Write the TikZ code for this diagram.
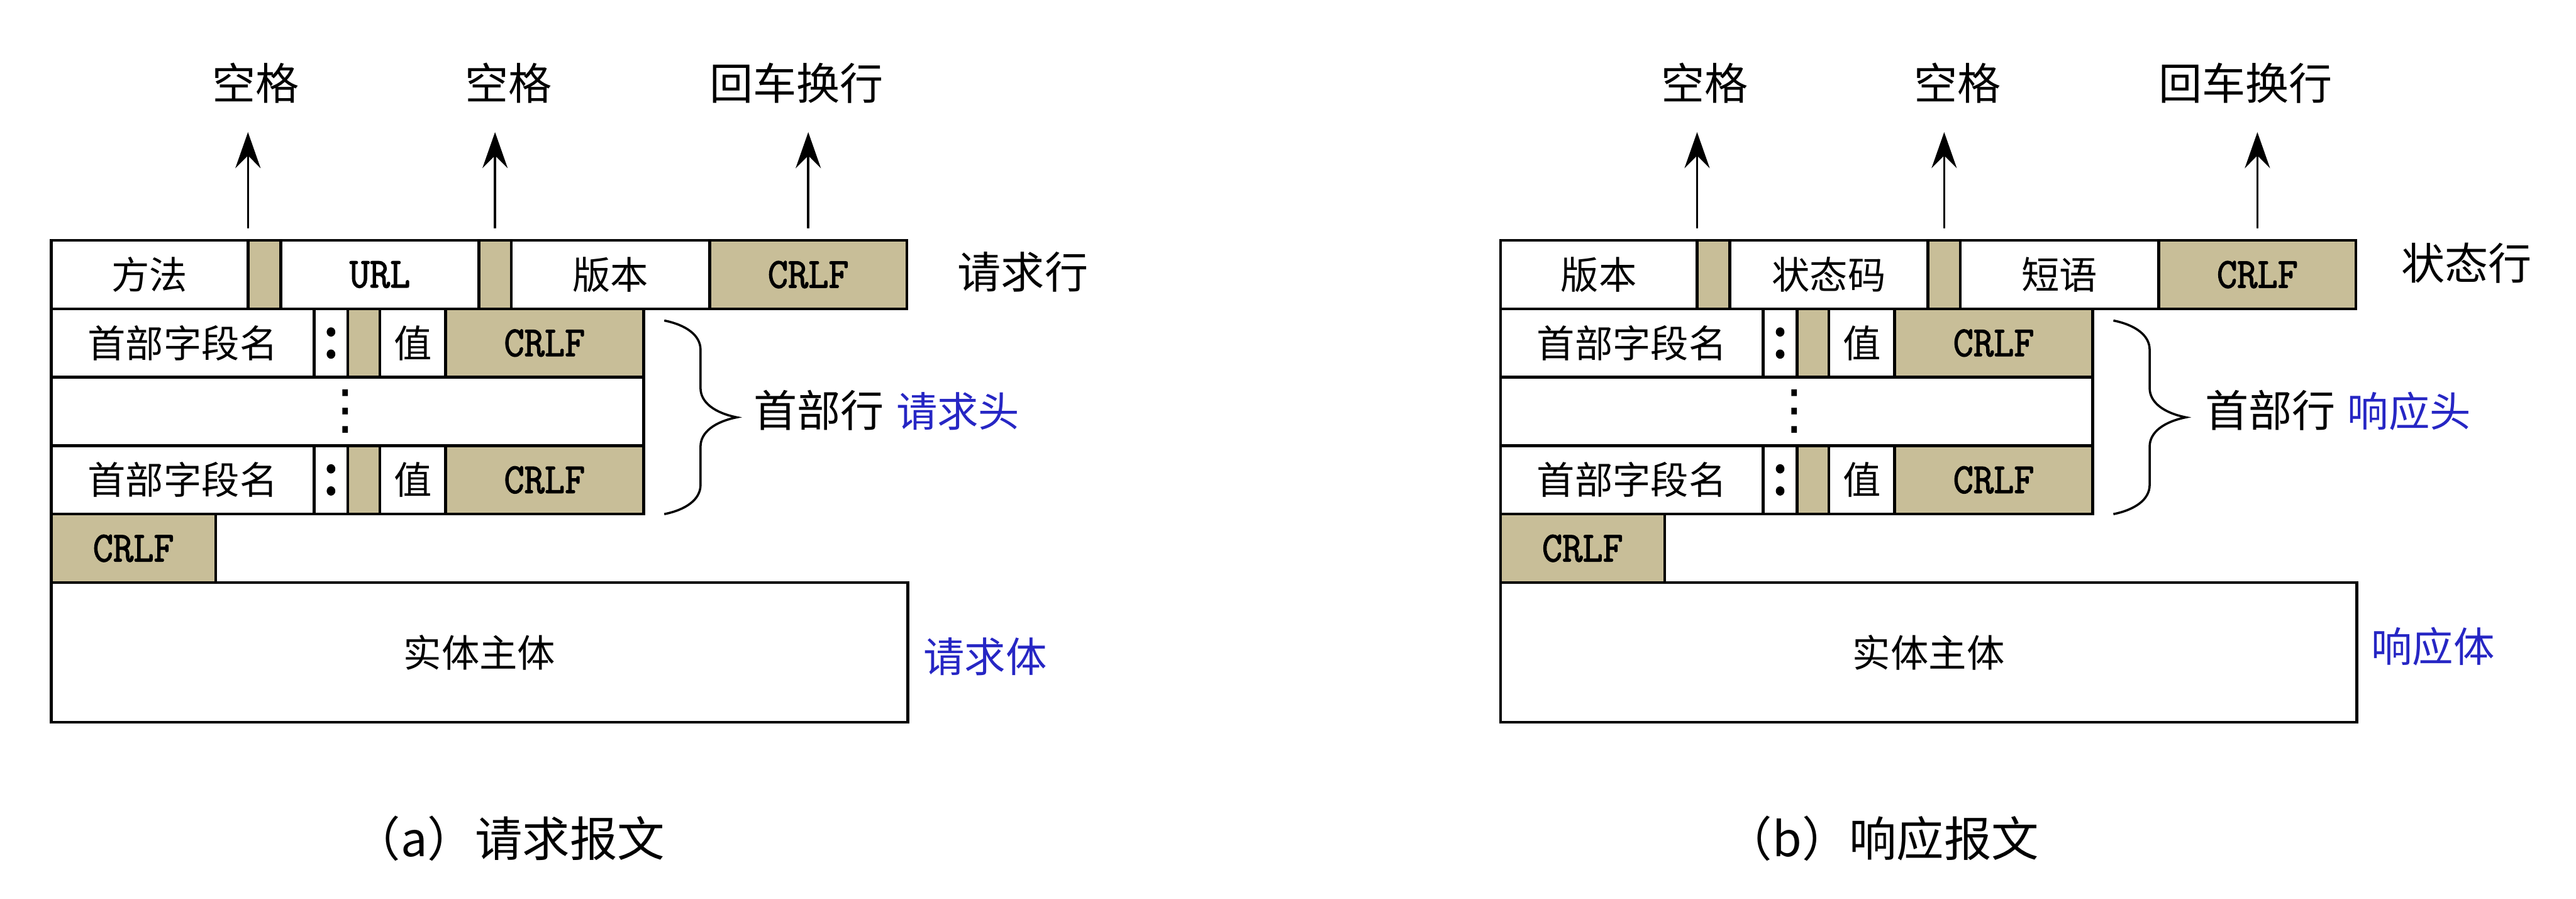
\documentclass[tikz,border=0pt]{standalone}
\usepackage{fontspec}
\setmainfont{Noto Sans CJK SC}
\setmonofont{Latin Modern Mono}[FakeBold=2,FakeStretch=0.92]
\newfontfamily\symfont{DejaVu Sans}
\usetikzlibrary{positioning,arrows.meta,decorations.pathreplacing}

\definecolor{cellTan}{RGB}{200,190,152}
\definecolor{headBlue}{RGB}{38,38,196}

\tikzset{
	cell/.style={rectangle,draw,line width=1.8pt,inner sep=0pt,outer sep=0pt,minimum height=1.52cm,font=\fontsize{24}{28}\selectfont},
	tancell/.style={cell,fill=cellTan},
	crlf/.style={tancell,font=\ttfamily\fontsize{27}{30}\selectfont},
	colonsym/.style={inner sep=0pt,font=\ttfamily\fontsize{44}{44}\selectfont},
	dotsym/.style={inner sep=0pt,font=\symfont\fontsize{34}{34}\selectfont},
	lbl/.style={inner sep=0pt,font=\fontsize{27.5}{32}\selectfont},
	bluelbl/.style={inner sep=0pt,text=headBlue,font=\fontsize{26}{30}\selectfont},
	capt/.style={inner sep=0pt,font=\fontsize{30}{34}\selectfont},
	arr/.style={line width=1.4pt,-{Stealth[length=0.8cm,width=0.56cm,inset=0.28cm]}},
	hbrace/.style={line width=1.4pt,decorate,decoration={brace,amplitude=0.65cm,transform={yscale=2.48}}}
}

\begin{document}
\begin{tikzpicture}
	\useasboundingbox (0,0) rectangle (57.24,-19.96);
	
	% (a) request message
	\node[cell,minimum width=4.37cm,anchor=north west] (qm) at (1.14,-5.34) {方法};
	\node[tancell,minimum width=0.73cm,right=0pt of qm] (qg1) {};
	\node[cell,minimum width=4.40cm,right=0pt of qg1,font=\ttfamily\fontsize{27}{30}\selectfont] (qurl) {URL};
	\node[tancell,minimum width=0.72cm,right=0pt of qurl] (qg2) {};
	\node[cell,minimum width=4.41cm,right=0pt of qg2] (qv) {版本};
	\node[crlf,minimum width=4.38cm,right=0pt of qv] (qc0) {CRLF};
	
	\node[cell,minimum width=5.84cm,anchor=north west] (qn1) at (qm.south west) {首部字段名};
	\node[cell,minimum width=0.75cm,right=0pt of qn1] (qk1) {};
	\node[tancell,minimum width=0.71cm,right=0pt of qk1] (qs1) {};
	\node[cell,minimum width=1.46cm,right=0pt of qs1] (qval1) {值};
	\node[crlf,minimum width=4.40cm,right=0pt of qval1] (qc1) {CRLF};
	
	\node[cell,minimum width=13.16cm,anchor=north west] (qdots) at (qn1.south west) {};
	
	\node[cell,minimum width=5.84cm,anchor=north west] (qn2) at (qdots.south west) {首部字段名};
	\node[cell,minimum width=0.75cm,right=0pt of qn2] (qk2) {};
	\node[tancell,minimum width=0.71cm,right=0pt of qk2] (qs2) {};
	\node[cell,minimum width=1.46cm,right=0pt of qs2] (qval2) {值};
	\node[crlf,minimum width=4.40cm,right=0pt of qval2] (qc2) {CRLF};
	
	\node[crlf,minimum width=3.65cm,anchor=north west] (qc3) at (qn2.south west) {CRLF};
	\node[cell,minimum width=19.03cm,minimum height=3.1cm,anchor=north west] (qbody) at (qc3.south west) {实体主体};
	
	\node[colonsym] (qcol1) at (qk1) {:};
	\node[colonsym] (qcol2) at (qk2) {:};
	\node[dotsym,xshift=-0.6mm] (qvd) at (qk1.east |- qdots.center) {⋮};
	
	\node[lbl] (qsp1) at (5.68,-1.85) {空格};
	\node[lbl] (qsp2) at (11.30,-1.85) {空格};
	\node[lbl] (qcr) at (17.70,-1.85) {回车换行};
	\draw[arr,shorten >=6.3mm] ([yshift=2.7mm]qg1.north west) -- (qg1.north west |- qsp1.south);
	\draw[arr,shorten >=6.3mm] ([yshift=2.7mm]qg2.north) -- (qg2.north |- qsp2.south);
	\draw[arr,shorten >=6.3mm] ([yshift=2.7mm]qc0.north) -- (qc0.north |- qcr.south);
	
	\node[lbl] (qline) at (22.73,-6.04) {请求行};
	\draw[hbrace] ([xshift=4.6mm,yshift=-2.6mm]qc1.north east) -- ([xshift=4.6mm]qc2.south east);
	\node[lbl] (qhl) at (18.20,-9.11) {首部行};
	\node[bluelbl,anchor=base west,xshift=2.5mm] (qhead) at (qhl.base east) {请求头};
	\node[bluelbl] (qbd) at (21.89,-14.59) {请求体};
	\node[capt] (qcap) at (11.31,-18.62) {（a）请求报文};
	
	% (b) response message
	\begin{scope}[xshift=32.2cm]
	\node[cell,minimum width=4.37cm,anchor=north west] (rv) at (1.14,-5.34) {版本};
	\node[tancell,minimum width=0.73cm,right=0pt of rv] (rg1) {};
	\node[cell,minimum width=4.40cm,right=0pt of rg1] (rst) {状态码};
	\node[tancell,minimum width=0.72cm,right=0pt of rst] (rg2) {};
	\node[cell,minimum width=4.41cm,right=0pt of rg2] (rph) {短语};
	\node[crlf,minimum width=4.38cm,right=0pt of rph] (rc0) {CRLF};
	
	\node[cell,minimum width=5.84cm,anchor=north west] (rn1) at (rv.south west) {首部字段名};
	\node[cell,minimum width=0.75cm,right=0pt of rn1] (rk1) {};
	\node[tancell,minimum width=0.71cm,right=0pt of rk1] (rs1) {};
	\node[cell,minimum width=1.46cm,right=0pt of rs1] (rval1) {值};
	\node[crlf,minimum width=4.40cm,right=0pt of rval1] (rc1) {CRLF};
	
	\node[cell,minimum width=13.16cm,anchor=north west] (rdots) at (rn1.south west) {};
	
	\node[cell,minimum width=5.84cm,anchor=north west] (rn2) at (rdots.south west) {首部字段名};
	\node[cell,minimum width=0.75cm,right=0pt of rn2] (rk2) {};
	\node[tancell,minimum width=0.71cm,right=0pt of rk2] (rs2) {};
	\node[cell,minimum width=1.46cm,right=0pt of rs2] (rval2) {值};
	\node[crlf,minimum width=4.40cm,right=0pt of rval2] (rc2) {CRLF};
	
	\node[crlf,minimum width=3.65cm,anchor=north west] (rc3) at (rn2.south west) {CRLF};
	\node[cell,minimum width=19.03cm,minimum height=3.1cm,anchor=north west] (rbody) at (rc3.south west) {实体主体};
	
	\node[colonsym] (rcol1) at (rk1) {:};
	\node[colonsym] (rcol2) at (rk2) {:};
	\node[dotsym,xshift=-0.6mm] (rvd) at (rk1.east |- rdots.center) {⋮};
	
	\node[lbl] (rsp1) at (5.68,-1.85) {空格};
	\node[lbl] (rsp2) at (11.30,-1.85) {空格};
	\node[lbl] (rcr) at (17.70,-1.85) {回车换行};
	\draw[arr,shorten >=6.3mm] ([yshift=2.7mm]rg1.north west) -- (rg1.north west |- rsp1.south);
	\draw[arr,shorten >=6.3mm] ([yshift=2.7mm]rg2.north) -- (rg2.north |- rsp2.south);
	\draw[arr,shorten >=6.3mm] ([yshift=2.7mm]rc0.north) -- (rc0.north |- rcr.south);
	
	\node[lbl] (rline) at (22.61,-5.84) {状态行};
	\draw[hbrace] ([xshift=4.6mm,yshift=-2.6mm]rc1.north east) -- ([xshift=4.6mm]rc2.south east);
	\node[lbl] (rhl) at (18.25,-9.11) {首部行};
	\node[bluelbl,anchor=base west,xshift=2.5mm] (rhead) at (rhl.base east) {响应头};
	\node[bluelbl] (rbd) at (21.86,-14.36) {响应体};
	\node[capt] (rcap) at (9.62,-18.62) {（b）响应报文};
	\end{scope}
\end{tikzpicture}
\end{document}
